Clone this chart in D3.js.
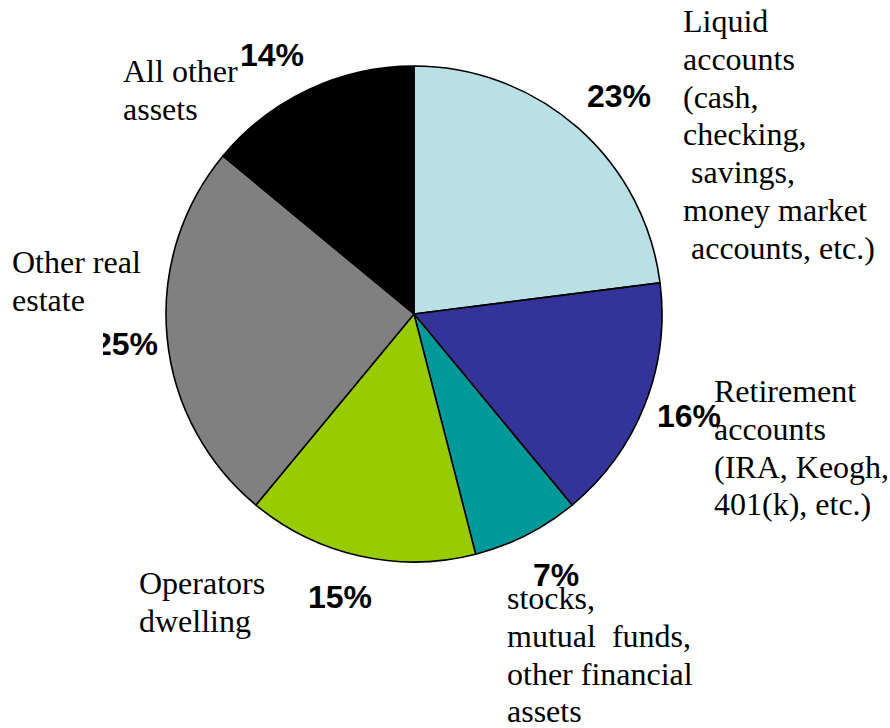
<!DOCTYPE html>
<html>
<head>
<meta charset="utf-8">
<script src="https://cdn.jsdelivr.net/npm/d3@7"></script>
<style>
  html, body { margin: 0; padding: 0; background: #fff; }
  svg { display: block; }
  .cat { font-family: "Liberation Serif", "Times New Roman", serif; font-size: 32px; fill: #000; white-space: pre; }
  .pct { font-family: "Liberation Sans", Arial, sans-serif; font-size: 32px; font-weight: bold; fill: #000; }
</style>
</head>
<body>
<script>
// Shares of farm household assets, clockwise from 12 o'clock
const categories = [
  "Liquid accounts",
  "Retirement accounts",
  "Stocks, mutual funds, other financial assets",
  "Operators dwelling",
  "Other real estate",
  "All other assets"
];
const shares = [23, 16, 7, 15, 25, 14];
const sliceColors = ["#B9E0E4", "#333399", "#009999", "#99CC00", "#808080", "#000000"];

// Category label text, line by line
const labelLines = [
  ["Liquid", "accounts", "(cash,", "checking,", " savings,", "money market", " accounts, etc.)"],
  ["Retirement", "accounts", "(IRA, Keogh,", "401(k), etc.)"],
  ["stocks,", "mutual  funds,", "other financial", "assets"],
  ["Operators", "dwelling"],
  ["Other real", "estate"],
  ["All other", "assets"]
];

// Layout: where each category block and percentage sits
const labelLayout = [
  { x: 683, y: 32,  pctX: 587, pctY: 107 },
  { x: 714, y: 402, pctX: 657, pctY: 427 },
  { x: 507, y: 609, pctX: 533, pctY: 586 },
  { x: 139, y: 594, pctX: 308, pctY: 608 },
  { x: 12,  y: 273, pctX: 94,  pctY: 355, mask: { x: 0, y: 246, w: 103, h: 116 } },
  { x: 123, y: 82,  pctX: 240, pctY: 66 }
];

const W = 890, H = 728;
const cx = 414, cy = 314, R = 248;
const lineGap = 37.8;

const svg = d3.select("body").append("svg")
  .attr("width", W).attr("height", H);

const pie = d3.pie().sort(null).value(d => d)(shares);
const arc = d3.arc().innerRadius(0).outerRadius(R);

svg.append("g")
  .attr("transform", `translate(${cx},${cy})`)
  .selectAll("path")
  .data(pie)
  .join("path")
  .attr("d", arc)
  .attr("fill", (d, i) => sliceColors[i])
  .attr("stroke", "#000")
  .attr("stroke-width", 1.6)
  .attr("stroke-linejoin", "round");

// Percentages
svg.append("g").selectAll("text")
  .data(pie)
  .join("text")
  .attr("class", "pct")
  .attr("x", (d, i) => labelLayout[i].pctX)
  .attr("y", (d, i) => labelLayout[i].pctY)
  .text(d => d.data + "%");

// Category text blocks (some carry an opaque box behind them)
const blocks = svg.append("g").selectAll("g")
  .data(categories)
  .join("g");

blocks.each(function (c, i) {
  const g = d3.select(this);
  const L = labelLayout[i];
  if (L.mask) {
    g.append("rect")
      .attr("x", L.mask.x).attr("y", L.mask.y)
      .attr("width", L.mask.w).attr("height", L.mask.h)
      .attr("fill", "#fff");
  }
  const t = g.append("text").attr("class", "cat").attr("x", L.x).attr("y", L.y);
  labelLines[i].forEach((s, k) => {
    t.append("tspan")
      .attr("x", L.x)
      .attr("y", L.y + k * lineGap)
      .text(s);
  });
});
</script>
</body>
</html>
